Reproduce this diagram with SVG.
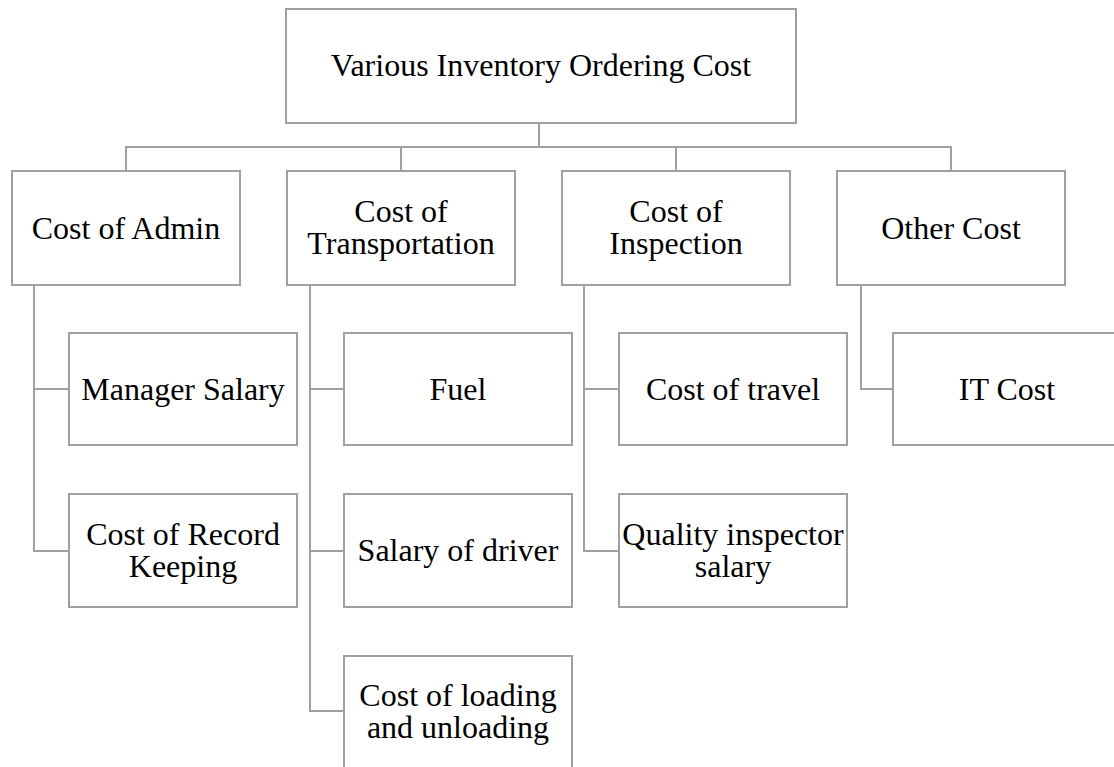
<svg xmlns="http://www.w3.org/2000/svg" width="1114" height="767" viewBox="0 0 1114 767">
<style>
.box{fill:#fff;stroke:#a0a0a0;stroke-width:2}
.ln{fill:none;stroke:#a0a0a0;stroke-width:2}
text{font-family:"Liberation Serif","Times New Roman",serif;font-size:32px;fill:#000;text-anchor:middle}
</style>
<rect width="1114" height="767" fill="#fff"/>
<g id="connectors">
<path class="ln" d="M539 123V147M125 147H952M126 147V171M401 147V171M676 147V171M951 147V171"/>
<path class="ln" d="M34 285V551H69M34 389H69"/>
<path class="ln" d="M310 285V711H344M310 389H344M310 551H344"/>
<path class="ln" d="M584 285V551H619M584 389H619"/>
<path class="ln" d="M861 285V389H893"/>
</g>
<g id="root"><rect class="box" x="286" y="9" width="510" height="114"/><text x="541" y="76">Various Inventory Ordering Cost</text></g>
<g id="admin"><rect class="box" x="12" y="171" width="228" height="114"/><text x="126" y="239">Cost of Admin</text></g>
<g id="transport"><rect class="box" x="287" y="171" width="228" height="114"/><text x="401" y="222">Cost of</text><text x="401" y="254">Transportation</text></g>
<g id="inspection"><rect class="box" x="562" y="171" width="228" height="114"/><text x="676" y="222">Cost of</text><text x="676" y="254">Inspection</text></g>
<g id="other"><rect class="box" x="837" y="171" width="228" height="114"/><text x="951" y="239">Other Cost</text></g>
<g id="manager"><rect class="box" x="69" y="333" width="228" height="112"/><text x="183" y="400">Manager Salary</text></g>
<g id="record"><rect class="box" x="69" y="494" width="228" height="113"/><text x="183" y="545">Cost of Record</text><text x="183" y="577">Keeping</text></g>
<g id="fuel"><rect class="box" x="344" y="333" width="228" height="112"/><text x="458" y="400">Fuel</text></g>
<g id="driver"><rect class="box" x="344" y="494" width="228" height="113"/><text x="458" y="561">Salary of driver</text></g>
<g id="loading"><rect class="box" x="344" y="656" width="228" height="114"/><text x="458" y="706">Cost of loading</text><text x="458" y="738">and unloading</text></g>
<g id="travel"><rect class="box" x="619" y="333" width="228" height="112"/><text x="733" y="400">Cost of travel</text></g>
<g id="quality"><rect class="box" x="619" y="494" width="228" height="113"/><text x="733" y="545">Quality inspector</text><text x="733" y="577">salary</text></g>
<g id="it"><rect class="box" x="893" y="333" width="228" height="112"/><text x="1007" y="400">IT Cost</text></g>
</svg>
